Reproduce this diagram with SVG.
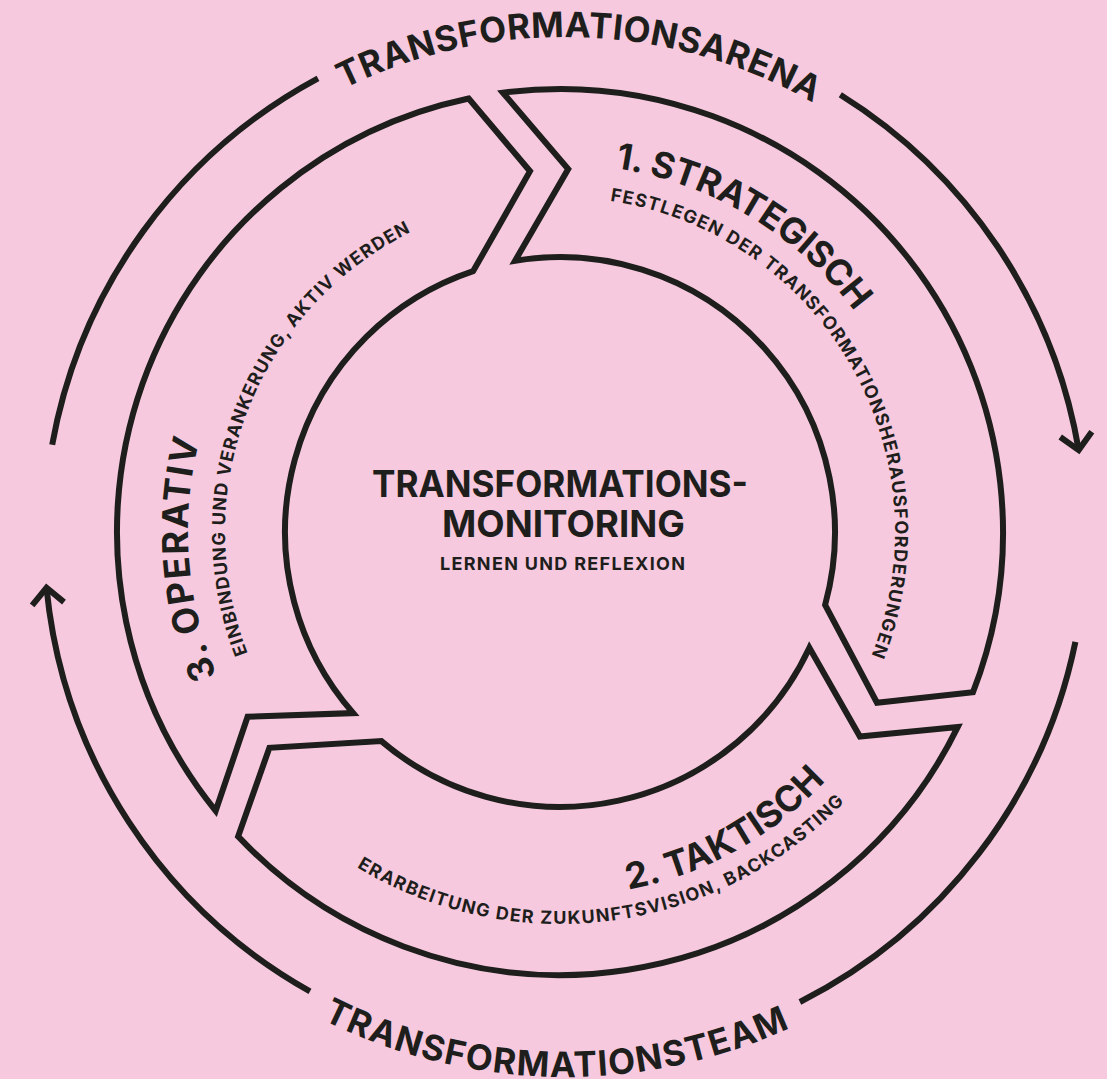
<svg xmlns="http://www.w3.org/2000/svg" width="1107" height="1079" viewBox="0 0 1107 1079">
  <style>
    .bg { fill: #f7c9de; }
    .line { fill: none; stroke: #1e1e1c; stroke-width: 6; stroke-linejoin: miter; stroke-miterlimit: 10; }
    .ring { fill: none; stroke: #1e1e1c; stroke-width: 6; stroke-linecap: butt; }
    text { fill: #1e1e1c; font-family: "Inter", "Open Sans", "Liberation Sans", sans-serif; }
    .big { font-size: 36px; font-weight: 700; }
    .outer { font-size: 35px; font-weight: 700; }
    .sub { font-size: 18px; font-weight: 650; }
    .title { font-size: 37px; font-weight: 700; }
    .note { font-size: 18px; font-weight: 700; }
  </style>
  <defs>
    <marker id="chevron" markerUnits="userSpaceOnUse" orient="auto" refX="0" refY="0" markerWidth="40" markerHeight="40" overflow="visible">
      <path d="M-16,-16 L0,0 L-16,16" fill="none" stroke="#1e1e1c" stroke-width="6"/>
    </marker>
    <!-- baselines for curved labels -->
    <path id="p-arena" d="M343.5,88.8 A500,500 0 0,1 812.8,102.7"/>
    <path id="p-team" d="M322.4,1019.4 A540,540 0 0,0 789.8,1028.0"/>
    <path id="p-s1" d="M615.0,168.1 A368,368 0 0,1 854.7,311.6"/>
    <path id="p-s1sub" d="M610.1,200.8 A335,335 0 0,1 871.5,655.3"/>
    <path id="p-s2" d="M628.2,889.6 A364,364 0 0,0 825.8,780.7"/>
    <path id="p-s2sub" d="M356.9,867.3 A392,392 0 0,0 844.4,801.8"/>
    <path id="p-s3" d="M216.8,675.6 A372,372 0 0,1 199.5,440.1"/>
    <path id="p-s3sub" d="M247.7,653.1 A335,335 0 0,1 410.5,232.2"/>
  </defs>

  <rect class="bg" x="0" y="0" width="1107" height="1079"/>

  <!-- outer cycle arcs with arrowheads -->
  <g id="connectors">
    <path class="ring" d="M52.2,444.7 A521,521 0 0,1 318.0,78.3"/>
    <path class="ring" d="M840.3,94.7 A521,521 0 0,1 1078.7,450.1" marker-end="url(#chevron)"/>
    <path class="ring" d="M1075.4,641.8 A521,521 0 0,1 799.9,1002.0"/>
    <path class="ring" d="M310.0,991.4 A521,521 0 0,1 46.5,587.8" marker-end="url(#chevron)"/>
  </g>

  <g id="label-arena">
    <text class="outer"><textPath href="#p-arena" textLength="488.7" lengthAdjust="spacing">TRANSFORMATIONSARENA</textPath></text>
  </g>
  <g id="label-team">
    <text class="outer"><textPath href="#p-team" textLength="483.5" lengthAdjust="spacing">TRANSFORMATIONSTEAM</textPath></text>
  </g>

  <!-- segment 1: strategic -->
  <g id="node-strategisch">
    <path class="line" d="M502.9,92.7 L568.2,169.1 L515.1,260.7 A275,275 0 0,1 825.1,605.0 L877.0,702.7 L973.0,692.2 A443,443 0 0,0 502.9,92.7 Z"/>
    <text class="big"><textPath href="#p-s1" textLength="286.5" lengthAdjust="spacing">1. STRATEGISCH</textPath></text>
    <text class="sub"><textPath href="#p-s1sub" textLength="602.2" lengthAdjust="spacing">FESTLEGEN DER TRANSFORMATIONSHERAUSFORDERUNGEN</textPath></text>
  </g>

  <!-- segment 2: tactical -->
  <g id="node-taktisch">
    <path class="line" d="M957.8,726.9 L859.9,736.6 L809.4,647.8 A275,275 0 0,1 381.4,741.1 L269.4,747.8 L238.1,836.4 A443,443 0 0,0 957.8,726.9 Z"/>
    <text class="big"><textPath href="#p-s2" textLength="229.3" lengthAdjust="spacing">2. TAKTISCH</textPath></text>
    <text class="sub"><textPath href="#p-s2sub" textLength="531.6" lengthAdjust="spacing">ERARBEITUNG DER ZUKUNFTSVISION, BACKCASTING</textPath></text>
  </g>

  <!-- segment 3: operative -->
  <g id="node-operativ">
    <path class="line" d="M215.7,810.8 L247.6,716.8 L353.1,713.1 A275,275 0 0,1 473.2,271.1 L530.0,171.2 L468.7,98.5 A443,443 0 0,0 215.7,810.8 Z"/>
    <text class="big"><textPath href="#p-s3" textLength="240.2" lengthAdjust="spacing">3. OPERATIV</textPath></text>
    <text class="sub"><textPath href="#p-s3sub" textLength="495.2" lengthAdjust="spacing">EINBINDUNG UND VERANKERUNG, AKTIV WERDEN</textPath></text>
  </g>

  <!-- centre -->
  <g id="node-monitoring">
    <text class="title" x="560" y="497" text-anchor="middle" textLength="376" lengthAdjust="spacingAndGlyphs">TRANSFORMATIONS-</text>
    <text class="title" x="563.5" y="537" text-anchor="middle" textLength="243" lengthAdjust="spacingAndGlyphs">MONITORING</text>
    <text class="note" x="562.5" y="570" text-anchor="middle" textLength="245" lengthAdjust="spacing">LERNEN UND REFLEXION</text>
  </g>
</svg>
